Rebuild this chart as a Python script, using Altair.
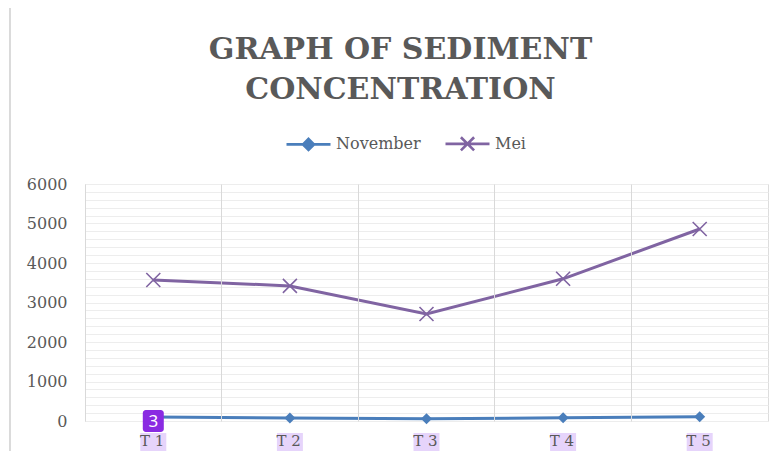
import altair as alt
import pandas as pd

categories = ["T 1", "T 2", "T 3", "T 4", "T 5"]
series_names = ["November", "Mei"]
november = [100, 75, 55, 80, 105]
mei = [3570, 3420, 2710, 3600, 4860]
badge_cats = ["T 1"]
badge_text = ["3"]

colors = ["#4a7ebb", "#8064a2"]
TXT = "#595959"
FONT = "DejaVu Serif"

rows = []
for c, v in zip(categories, november):
    rows.append({"cat": c, "series": "November", "value": v})
for c, v in zip(categories, mei):
    rows.append({"cat": c, "series": "Mei", "value": v})
df = pd.DataFrame(rows)
badge_df = pd.DataFrame({"cat": badge_cats, "label": badge_text})
cat_df = pd.DataFrame({"cat": categories})

W, H = 683, 237

xscale = alt.Scale(type="band", domain=categories, paddingInner=0, paddingOuter=0)
yscale = alt.Scale(domain=[0, 6000], nice=False)
cscale = alt.Scale(domain=series_names, range=colors)

X = alt.X("cat:N", scale=xscale, title=None,
          axis=alt.Axis(orient="bottom", labelAngle=0, labelFont=FONT, labelFontSize=15,
                        labelColor=TXT, labelPadding=19, ticks=False, domain=False,
                        grid=True, gridColor="#d9d9d9", gridWidth=1, bandPosition=0,
                        labelOffset=11, zindex=2))
Y = alt.Y("value:Q", scale=yscale, title=None,
          axis=alt.Axis(orient="left", values=list(range(0, 6001, 200)), format="d",
                        labelExpr="datum.value % 1000 == 0 ? datum.label : ''",
                        labelFont=FONT, labelFontSize=16, labelColor=TXT, labelPadding=18,
                        ticks=False, domain=False, grid=True, gridColor="#ededed",
                        gridWidth=1))

leg = alt.Legend(orient="none", direction="horizontal", legendX=211, legendY=-53,
                 title=None, labelFont=FONT, labelFontSize=16, labelColor=TXT,
                 symbolSize=484, symbolStrokeWidth=2.6,
                 labelOffset=15, columnPadding=19, symbolOpacity=1)

base = alt.Chart(df).encode(x=X, y=Y)

hl = alt.Chart(cat_df).mark_rect(color="#e6d4fb", width=26).encode(
    x=alt.X("cat:N", scale=xscale, title=None),
    y=alt.value(H + 12), y2=alt.value(H + 31))

lines = base.mark_line(strokeWidth=3).encode(
    color=alt.Color("series:N", scale=cscale, title=None, legend=leg),
    order=alt.Order("cat:N"))

nov_pts = base.transform_filter(alt.datum.series == "November").mark_point(
    shape="diamond", filled=True, size=121, opacity=1, color=colors[0])

mei_pts = base.transform_filter(alt.datum.series == "Mei").mark_point(
    shape="M-1,-1L1,1M-1,1L1,-1", filled=False, size=196, strokeWidth=1.6, opacity=1,
    color=colors[1])

legend_layer = base.mark_point(opacity=0, filled=True).encode(
    color=alt.Color("series:N", scale=cscale, title=None, legend=leg),
    stroke=alt.Stroke("series:N", scale=cscale, title=None, legend=leg),
    shape=alt.Shape("series:N", title=None, legend=leg, scale=alt.Scale(
        domain=series_names,
        range=["M-2,0L2,0M0,-0.5L0.5,0L0,0.5L-0.5,0Z",
               "M-2,0L2,0M-0.6,-0.6L0.6,0.6M-0.6,0.6L0.6,-0.6"])))

badge_rect = alt.Chart(badge_df).mark_rect(color="#8a2be2", width=21, height=22,
                                           cornerRadius=3).encode(
    x=alt.X("cat:N", scale=xscale, title=None), y=alt.value(H))
badge_txt = alt.Chart(badge_df).mark_text(color="white", font="Noto Sans",
                                          fontSize=17).encode(
    x=alt.X("cat:N", scale=xscale, title=None), y=alt.value(H + 1), text="label:N")

border = alt.Chart(cat_df).mark_rule(color="#d9d9d9", strokeWidth=1).encode(
    x=alt.value(-75), y=alt.value(-184), y2=alt.value(461 - 184))

chart = alt.layer(hl, lines, nov_pts, mei_pts, legend_layer,
                  badge_rect, badge_txt, border).properties(
    width=W, height=H,
    autosize=alt.AutoSizeParams(type="none"),
    padding={"left": 77, "top": 176, "right": 5, "bottom": 30},
    title=alt.TitleParams(["GRAPH OF SEDIMENT", "CONCENTRATION"], font=FONT,
                          fontSize=30, fontWeight="bold", color=TXT, lineHeight=40,
                          anchor="middle", dx=-26, offset=-105)
).configure_view(stroke="#d9d9d9", strokeWidth=1).configure(background="white")

chart.save("out.html", embed_options={"renderer": "svg", "actions": False})
